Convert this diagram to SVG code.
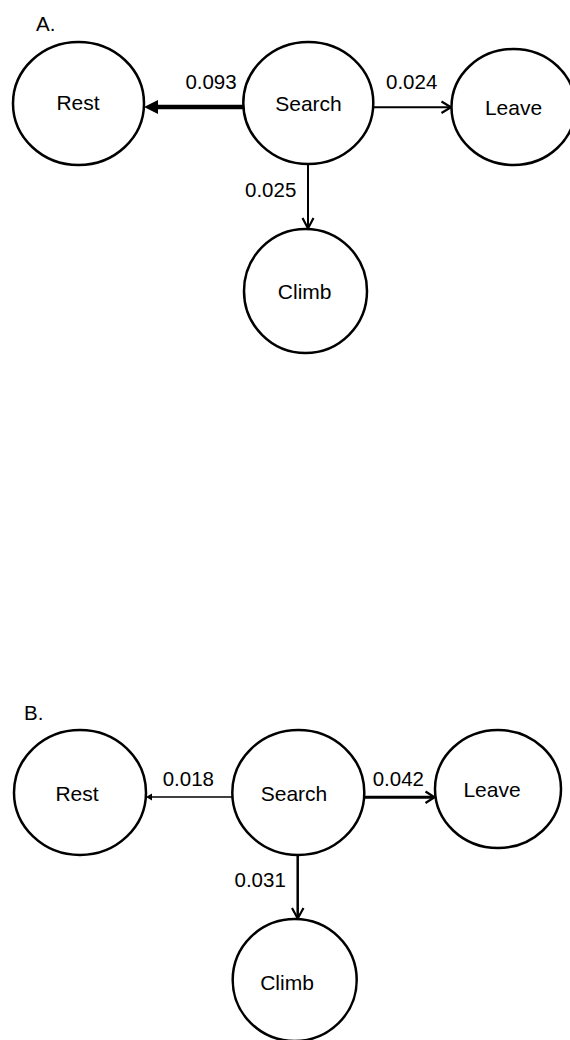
<svg xmlns="http://www.w3.org/2000/svg" width="570" height="1040" viewBox="0 0 570 1040">
<style>
.node{fill:#fff;stroke:#000;stroke-width:2.5}
.lbl{font-family:"Liberation Sans",Arial,sans-serif;font-size:21px;fill:#000;text-anchor:middle}
.num{font-family:"Liberation Sans",Arial,sans-serif;font-size:20.5px;fill:#000}
.edge{stroke:#000;fill:none;stroke-linecap:butt}
.vhead{stroke:#000;fill:none;stroke-width:2.2;stroke-linejoin:miter}
</style>
<rect width="570" height="1040" fill="#fff"/>
<text class="num" x="36" y="31">A.</text>
<text class="num" x="24" y="720">B.</text>
<g id="connectors">
  <!-- Panel A -->
  <line class="edge" x1="243" y1="107" x2="157" y2="107" stroke-width="4.5"/>
  <polygon points="144,107 158,100 158,114" fill="#000"/>
  <line class="edge" x1="373" y1="107.3" x2="450" y2="107.3" stroke-width="2"/>
  <polyline class="vhead" points="441.5,101.5 451,107.3 441.5,113"/>
  <line class="edge" x1="308" y1="164" x2="308" y2="228" stroke-width="2"/>
  <polyline class="vhead" points="302.5,218 308,228.5 313.5,218"/>
  <text class="num" x="236.7" y="89" text-anchor="end">0.093</text>
  <text class="num" x="386" y="89">0.024</text>
  <text class="num" x="245" y="197">0.025</text>
  <!-- Panel B -->
  <line class="edge" x1="232" y1="797" x2="150" y2="797" stroke-width="1.5"/>
  <polygon points="146,797 152,793.5 152,800.5" fill="#000"/>
  <line class="edge" x1="364" y1="797.3" x2="433" y2="797.3" stroke-width="3"/>
  <polyline class="vhead" points="425.5,791.5 434.5,797.3 425.5,803" stroke-width="2.6"/>
  <line class="edge" x1="297.7" y1="855" x2="297.7" y2="918" stroke-width="2.5"/>
  <polyline class="vhead" points="292,908 297.7,918.5 303.5,908" stroke-width="2.4"/>
  <text class="num" x="214" y="786" text-anchor="end">0.018</text>
  <text class="num" x="372.7" y="786">0.042</text>
  <text class="num" x="234.5" y="886.7">0.031</text>
</g>
<g id="A-rest"><ellipse class="node" cx="78.5" cy="103.5" rx="65.5" ry="61.5"/><text class="lbl" x="78" y="110">Rest</text></g>
<g id="A-search"><ellipse class="node" cx="308.3" cy="103" rx="65" ry="61"/><text class="lbl" x="308.5" y="110.5">Search</text></g>
<g id="A-leave"><ellipse class="node" cx="513.5" cy="107" rx="62" ry="58"/><text class="lbl" x="513.5" y="115">Leave</text></g>
<g id="A-climb"><ellipse class="node" cx="305.5" cy="291" rx="61.5" ry="62"/><text class="lbl" x="304.7" y="298.5">Climb</text></g>
<g id="B-rest"><ellipse class="node" cx="80" cy="792.5" rx="66" ry="62.5"/><text class="lbl" x="77" y="801">Rest</text></g>
<g id="B-search"><ellipse class="node" cx="298.3" cy="792.5" rx="66" ry="62.5"/><text class="lbl" x="294" y="800.5">Search</text></g>
<g id="B-leave"><ellipse class="node" cx="498" cy="789" rx="63" ry="59"/><text class="lbl" x="492" y="797">Leave</text></g>
<g id="B-climb"><ellipse class="node" cx="294.7" cy="980" rx="62" ry="61"/><text class="lbl" x="287" y="990">Climb</text></g>
</svg>
